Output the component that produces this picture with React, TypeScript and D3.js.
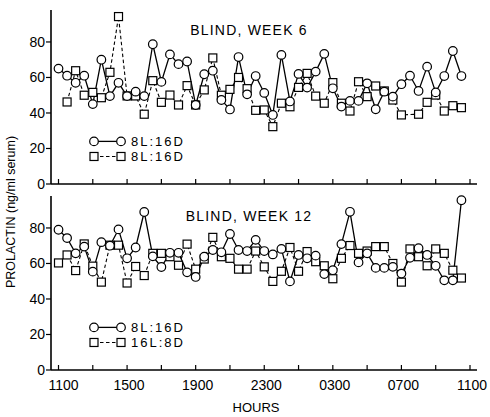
import React from "react";
import * as d3 from "d3";

// half-hourly samples, hours after 1100
const hours: number[] = d3.range(48).map((i) => i * 0.5);

const week6Circles: (number | null)[] = [
  65, 61, 57, 61, 45, 70, 49.5, 57, 49.5, 52, 49.5, 78.7, 57.5, 73, 67.5, 69,
  44.5, 61.8, 63.8, 47.3, 42, 71.5, 50.5, 60.8, 51.3, 38.9, 72.7, 46.5, 62, 54.3, 63.3, 73.3,
  53.9, 43.6, 46.8, 46.8, 56.7, 42.1, 52, 49.2, 56.2, 61, 52.4, 66.1, 51.6, 60.8, 74.9, 60.8,
];
const week6Squares: (number | null)[] = [
  null, 46.2, 63.8, 50, 51.6, 48.6, 62.9, 94.3, 49.6, 49.6, 39.3, 58.2, 46, 50.1, 44.5, 55.4,
  44.5, 53, 71, 50, 53.3, 60, 53.7, 41.5, 41.7, 32.3, 45.5, 43.5, 54.4, 62.3, 49.5, 45.5,
  57.1, 45.5, 41.1, 57.6, 49.2, 55.2, 52.4, 47.3, 38.9, null, 39.3, 46, 50.1, 41.1, 44.1, 43,
];
const week12Circles: (number | null)[] = [
  79, 74.3, 65.7, 69.5, 55.4, 72, 70, 79.2, 62.9, 69, 89, 64, 58, 66, 66, 55,
  52.4, 63.8, 67.6, 66.3, 76.6, 67.6, 67, 73.3, 67, 65.1, 68.2, 49.9, 64.8, 62.9, 64.4, 54,
  56.2, 70.9, 89.1, 60.6, 65.7, 57.5, 57.5, 58.1, 54.3, 63.2, 68.6, 64.8, 58.7, 50.5, 50.5, 95.6,
];
const week12Squares: (number | null)[] = [
  60.3, 64.8, 56, 71, 58.5, 49.5, 70.3, 70.3, 49, 58.3, 53.2, 65.7, 65.7, 63.8, 59, 70.9,
  56.8, 62.5, 74.7, 63.8, 62.9, 56.8, 56.8, 67, 58.1, 49.9, 55.6, 69, 55.6, 66.7, 61, 58.7,
  51.4, 62.9, 70.1, 65.7, 67, 69.5, 69.5, 60, 49.5, 68.2, 63.8, 58.7, 68.2, 65.7, 56.2, 51.8,
];

const yTicks = [0, 20, 40, 60, 80];
const xTickHours = d3.range(0, 25, 2);
const xLabelHours = [0, 4, 8, 12, 16, 20, 24];
const xLabels = ["1100", "1500", "1900", "2300", "0300", "0700", "1100"];

const panels = [
  { title: "BLIND, WEEK 6", circles: week6Circles, squares: week6Squares, legend: ["8L:16D", "8L:16D"] },
  { title: "BLIND, WEEK 12", circles: week12Circles, squares: week12Squares, legend: ["8L:16D", "16L:8D"] },
];

const FONT = "'Liberation Sans', Arial, Helvetica, sans-serif";

const x = d3.scaleLinear().domain([0, 24]).range([58.5, 470]);
const AXIS_X = 51;
const X_END = 477;

function Panel({ p, top, bottom, showLabels }: any) {
  const y = d3.scaleLinear().domain([0, 98]).range([bottom, top]);
  const line = d3
    .line<[number, number]>()
    .x((d) => x(d[0]))
    .y((d) => y(d[1]));
  const pts = (vals: (number | null)[]) =>
    hours.map((h, i) => [h, vals[i]] as [number, number | null]).filter((d) => d[1] != null) as [number, number][];
  const cPts = pts(p.circles);
  const sPts = pts(p.squares);
  const r = 4.3;
  const s = 8;
  const legY0 = y(24);
  const legY1 = y(15.5);
  return (
    <g>
      {/* axes */}
      <line x1={AXIS_X} x2={AXIS_X} y1={top} y2={bottom} stroke="#000" strokeWidth={1.6} />
      <line x1={AXIS_X} x2={X_END} y1={bottom} y2={bottom} stroke="#000" strokeWidth={1.6} />
      {yTicks.map((t) => (
        <g key={t}>
          <line x1={AXIS_X - 5} x2={AXIS_X} y1={y(t)} y2={y(t)} stroke="#000" strokeWidth={1.2} />
          <text x={AXIS_X - 6} y={y(t) + 5} fontSize={14} textAnchor="end" fontFamily={FONT}>
            {t}
          </text>
        </g>
      ))}
      {xTickHours.map((h) => (
        <line key={h} x1={x(h)} x2={x(h)} y1={bottom} y2={bottom - 5} stroke="#000" strokeWidth={1.2} />
      ))}
      {showLabels &&
        xLabelHours.map((h, i) => (
          <text key={h} x={x(h) + (i === 0 ? 5 : 2)} y={bottom + 20} fontSize={14} textAnchor="middle" fontFamily={FONT}>
            {xLabels[i]}
          </text>
        ))}
      {/* title */}
      <text x={249} y={top + 25} fontSize={14} textAnchor="middle" fontFamily={FONT} letterSpacing={1.2}>
        {p.title}
      </text>
      {/* series */}
      <path d={line(sPts) || ""} fill="none" stroke="#000" strokeWidth={1.1} strokeDasharray="3.5,2.5" />
      <path d={line(cPts) || ""} fill="none" stroke="#000" strokeWidth={1.3} />
      {sPts.map((d, i) => (
        <rect key={"s" + i} x={x(d[0]) - s / 2} y={y(d[1]) - s / 2} width={s} height={s} fill="#fff" stroke="#000" strokeWidth={1.2} />
      ))}
      {cPts.map((d, i) => (
        <circle key={"c" + i} cx={x(d[0])} cy={y(d[1])} r={r} fill="#fff" stroke="#000" strokeWidth={1.2} />
      ))}
      {/* legend */}
      <line x1={94} x2={121} y1={legY0} y2={legY0} stroke="#000" strokeWidth={1.3} />
      <circle cx={94} cy={legY0} r={r} fill="#fff" stroke="#000" strokeWidth={1.2} />
      <circle cx={121} cy={legY0} r={r} fill="#fff" stroke="#000" strokeWidth={1.2} />
      <text x={131} y={legY0 + 4.5} fontSize={13} fontFamily={FONT} letterSpacing={2}>
        {p.legend[0]}
      </text>
      <line x1={94} x2={121} y1={legY1} y2={legY1} stroke="#000" strokeWidth={1.1} strokeDasharray="3.5,2.5" />
      <rect x={94 - s / 2} y={legY1 - s / 2} width={s} height={s} fill="#fff" stroke="#000" strokeWidth={1.2} />
      <rect x={121 - s / 2} y={legY1 - s / 2} width={s} height={s} fill="#fff" stroke="#000" strokeWidth={1.2} />
      <text x={131} y={legY1 + 4.5} fontSize={13} fontFamily={FONT} letterSpacing={2}>
        {p.legend[1]}
      </text>
    </g>
  );
}

export default function App() {
  return (
    <svg
      width={490}
      height={417}
      viewBox="0 0 490 417"
      style={{ position: "absolute", left: 0, top: 0, background: "#fff" }}
    >
      <rect width={490} height={417} fill="#fff" />
      <Panel p={panels[0]} top={10} bottom={184} showLabels={false} />
      <Panel p={panels[1]} top={196} bottom={370} showLabels={true} />
      <text
        transform="translate(15,212) rotate(-90)"
        fontSize={12.5}
        textAnchor="middle"
        fontFamily={FONT}
      >
        PROLACTIN (ng/ml serum)
      </text>
      <text x={256} y={412} fontSize={13} textAnchor="middle" fontFamily={FONT}>
        HOURS
      </text>
    </svg>
  );
}
